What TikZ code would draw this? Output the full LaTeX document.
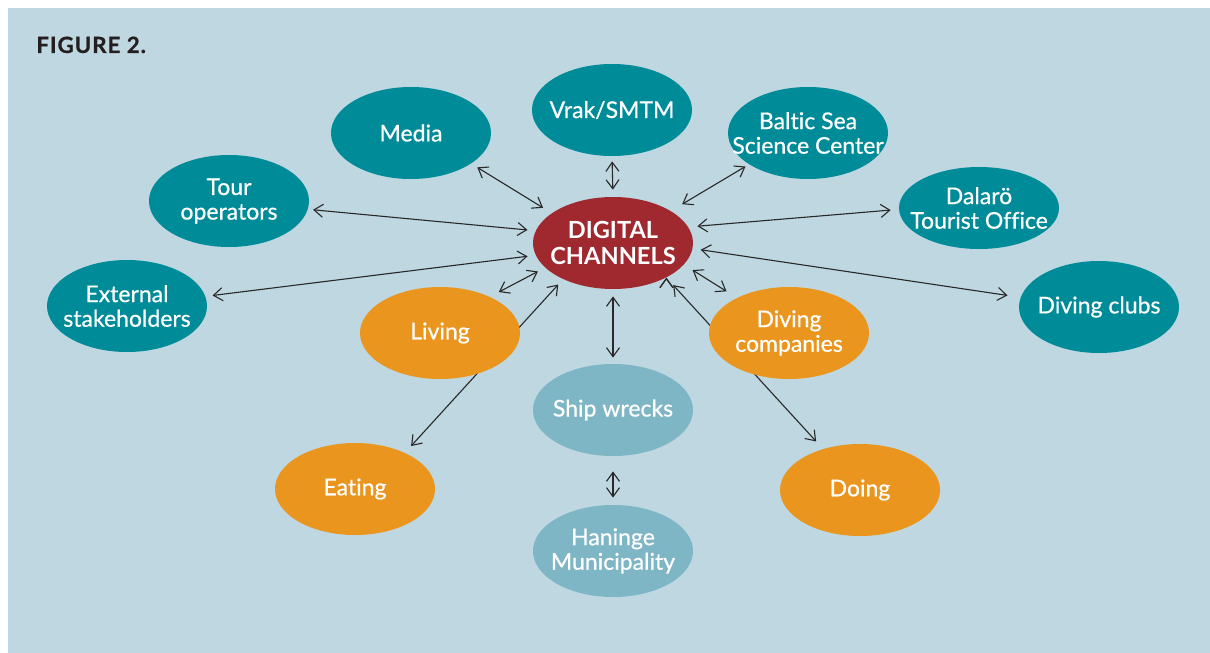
\documentclass[tikz,border=0pt]{standalone}
\usepackage{fontspec}
\setmainfont{Lato}[Ligatures=NoCommon]
\newfontfamily\blobfont{Lato}[Ligatures=NoCommon, FakeBold=0.6]
\usetikzlibrary{shapes.geometric, arrows.meta, positioning}
\definecolor{bgblue}{RGB}{190,215,224}
\definecolor{hubred}{RGB}{160,41,48}
\definecolor{partnerteal}{RGB}{0,139,153}
\definecolor{activityorange}{RGB}{234,150,30}
\definecolor{wreckblue}{RGB}{127,182,197}
\definecolor{figtext}{RGB}{35,31,32}
\definecolor{linkgray}{RGB}{40,40,40}
\pgfdeclarelayer{background}
\pgfsetlayers{background,main}
\tikzset{
>={Straight Barb[length=4.5pt,width=6.5pt]}, % open arrow heads
blob/.style={ellipse, minimum width=80pt, minimum height=46pt, inner xsep=-12pt, inner ysep=-8pt, text=white, align=center, font=\blobfont\fontsize{11.5}{12.3}\selectfont}, % every bubble
partner/.style={blob, fill=partnerteal},
activity/.style={blob, fill=activityorange},
attraction/.style={blob, fill=wreckblue},
hub/.style={blob, fill=hubred, font=\fontsize{11.8}{13}\selectfont\bfseries},
link/.style={<->, draw=linkgray, line width=0.55pt}, % the two-way arrows
}

\begin{document}
\begin{tikzpicture}[x=0.5pt, y=-0.5pt]
      \useasboundingbox (0,0) rectangle (1210,653);
      \begin{pgfonlayer}{background}
      \fill[white] (0,0) rectangle (1210,653);
      \fill[bgblue] (8,8) rectangle (1210,653);
      \end{pgfonlayer}

      \node[anchor=base west, inner sep=0pt, text=figtext, font=\fontsize{11.2}{12}\selectfont\bfseries\addfontfeatures{LetterSpace=4, FakeBold=0.6}] (title) at (36,53) {FIGURE 2.};

      \node[hub] (dc) at (613,243) {DIGITAL\\CHANNELS};
      \node[partner] (vrak) at (612,110) {Vrak/SMTM};
      \node[partner] (media) at (411,133) {Media};
      \node[partner] (baltic) at (808,133) {Baltic Sea\\Science Center};
      \node[partner] (tour) at (229,201) {Tour\\operators};
      \node[partner, minimum height=41pt] (dalaro) at (979,208) {Dalarö\\Tourist Office};
      \node[partner] (external) at (127,306) {External\\stakeholders};
      \node[partner] (clubs) at (1099,307) {Diving clubs};
      \node[activity] (living) at (440,333) {Living};
      \node[activity] (divcomp) at (789,333) {Diving\\companies};
      \node[attraction] (ship) at (613,410) {Ship wrecks};
      \node[activity] (eating) at (355,489) {Eating};
      \node[activity] (doing) at (860,490) {Doing};
      \node[attraction] (haninge) at (613,551) {Haninge\\Municipality};

      \begin{pgfonlayer}{background}
      \draw[link] (media.-27) edge[shorten <=3.5pt, shorten >=5pt] (dc.154)
      (vrak.south) edge[shorten <=2.5pt, shorten >=3.5pt] (dc.north)
      (baltic.208) edge[shorten <=2pt, shorten >=6.5pt] (dc.29)
      (tour.-6) edge[shorten <=2.5pt, shorten >=4pt] (dc.171)
      (dalaro.181) edge[shorten <=4pt, shorten >=4.5pt] (dc.12)
      (external.7) edge[shorten <=3.5pt, shorten >=4pt] (dc.189)
      (clubs.173) edge[shorten <=6.5pt, shorten >=4pt] (dc.-4)
      (living.36) edge[shorten <=5pt, shorten >=4pt] (dc.200)
      (eating.36) edge[shorten <=4.5pt, shorten >=3.5pt] (dc.216)
      (dc.south) edge[shorten <=3.5pt, shorten >=3pt] (ship.north)
      (ship.south) edge[shorten <=7.5pt, shorten >=3.5pt] (haninge.north)
      (dc.-17) edge[shorten <=5pt, shorten >=6pt] (divcomp.146)
      (dc.-33) edge[shorten <=5pt, shorten >=5pt] (doing.132);
      \end{pgfonlayer}
    \end{tikzpicture}
\end{document}
